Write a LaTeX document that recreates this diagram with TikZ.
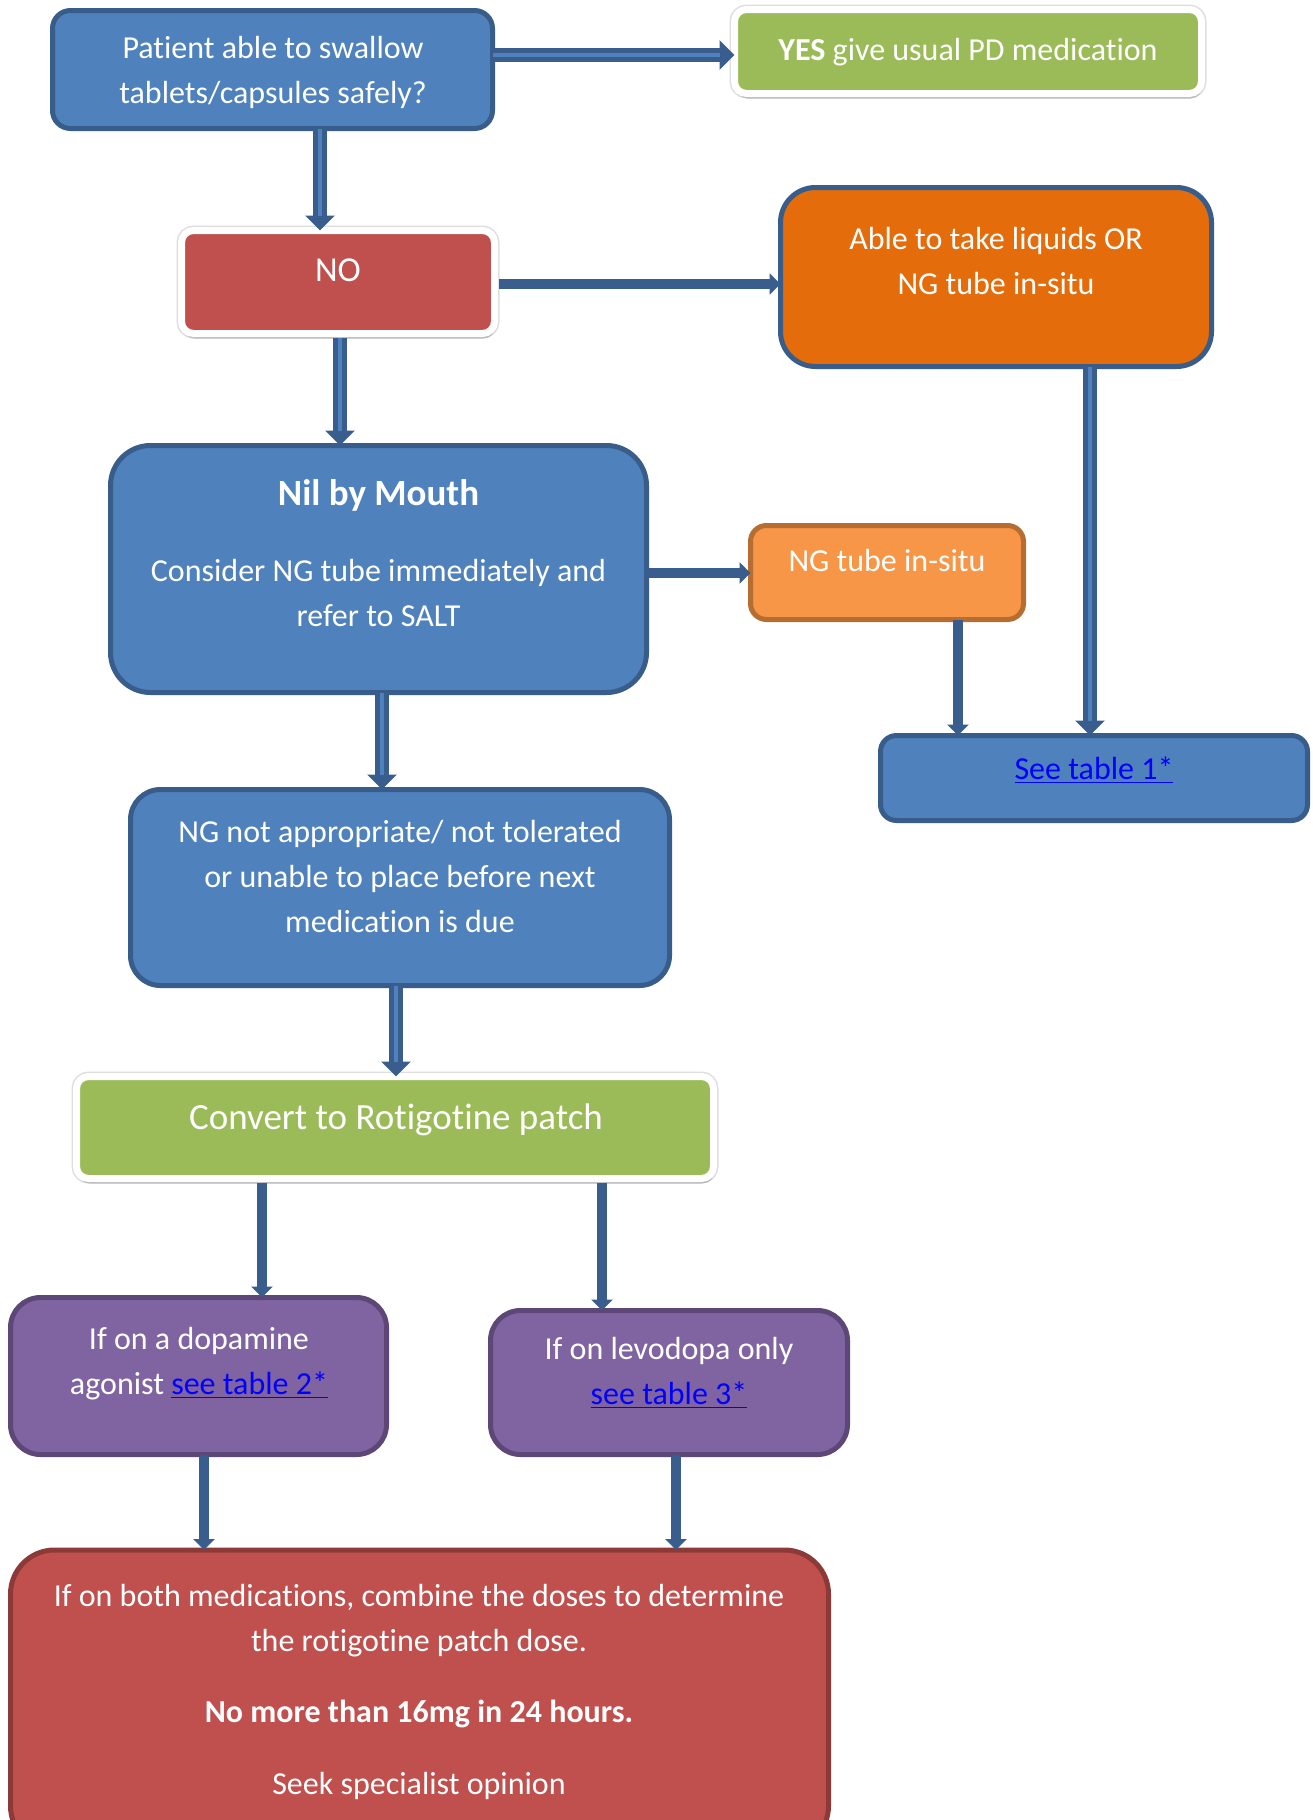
\documentclass[tikz,border=0pt]{standalone}
\usepackage{fontspec}
\setmainfont{Carlito}[Ligatures={NoCommon,NoContextual}]
\usetikzlibrary{arrows.meta,shadows}
\definecolor{bluefill}{HTML}{4F81BD}
\definecolor{bluebd}{HTML}{385D8A}
\definecolor{arrowc}{HTML}{395E8D}
\definecolor{stripec}{HTML}{4F81BD}
\definecolor{greenfill}{HTML}{9BBB59}
\definecolor{redfill}{HTML}{C0504D}
\definecolor{redbd}{HTML}{8C3A38}
\definecolor{orangefill}{HTML}{E46C0A}
\definecolor{ltorange}{HTML}{F79646}
\definecolor{ltorangebd}{HTML}{B66D31}
\definecolor{purplefill}{HTML}{8064A2}
\definecolor{purplebd}{HTML}{5C4776}
\definecolor{linkblue}{HTML}{0000FF}
\newcommand{\lnk}[1]{\textcolor{linkblue}{\underline{#1}}}
\begin{document}
\begin{tikzpicture}[x=0.5pt,y=-0.5pt,
  basebox/.style={outer sep=0pt, inner sep=0pt, line width=2.5pt},
  bluebox/.style={basebox, draw=bluebd, fill=bluefill},
  whitebox/.style={outer sep=0pt, inner sep=0pt, line width=3.5pt, draw=white, rounded corners=6pt,
    preaction={draw=black!13, line width=5pt},
    drop shadow={shadow xshift=0.5pt, shadow yshift=-2.5pt, opacity=0.3, fill=black!60}},
  txt/.style={text=white, align=center, inner sep=0pt, font=\fontsize{16pt}{22.5pt}\selectfont},
  thk/.style={draw=arrowc, line width=7pt, -{Triangle[width=14.5pt,length=7.5pt]},
    postaction={draw=stripec, line width=2pt, -, shorten >=7.5pt}},
  thn/.style={draw=arrowc, line width=5pt, -{Triangle[width=10.5pt,length=5.5pt]}}
]
\useasboundingbox (0,0) rectangle (1312,1820);
\clip (0,0) rectangle (1312,1820);
\fill[white] (0,0) rectangle (1312,1820);

% boxes
\node[bluebox, rounded corners=9pt, minimum width=220pt, minimum height=59pt] (b1) at (272.5,69.5) {};
\node[whitebox, fill=greenfill, minimum width=233.5pt, minimum height=42pt] (yes) at (968,51.5) {};
\node[whitebox, fill=redfill, minimum width=156.5pt, minimum height=51.5pt] (no) at (338,282) {};
\node[basebox, draw=bluebd, fill=orangefill, rounded corners=17.5pt, minimum width=215.5pt, minimum height=89.5pt] (orng) at (996,277) {};
\node[bluebox, rounded corners=20pt, minimum width=268pt, minimum height=123.5pt] (nil) at (378.5,569) {};
\node[basebox, draw=ltorangebd, fill=ltorange, rounded corners=8pt, minimum width=136.5pt, minimum height=47pt] (ng) at (887,572.5) {};
\node[bluebox, rounded corners=8pt, minimum width=213.5pt, minimum height=42.5pt] (t1) at (1094,778) {};
\node[bluebox, rounded corners=15pt, minimum width=269.5pt, minimum height=98pt] (notap) at (400,887.5) {};
\node[whitebox, fill=greenfill, minimum width=318.5pt, minimum height=51pt] (conv) at (395,1127.5) {};
\node[basebox, draw=purplebd, fill=purplefill, rounded corners=15pt, minimum width=188pt, minimum height=78.5pt] (p1) at (198.5,1376) {};
\node[basebox, draw=purplebd, fill=purplefill, rounded corners=15pt, minimum width=178.5pt, minimum height=72pt] (p2) at (669,1382.5) {};
\node[basebox, draw=redbd, fill=redfill, rounded corners=22pt, minimum width=409pt, minimum height=150pt] (red) at (419.5,1700) {};

% texts
\node[txt] (b1t) at (273,72) {\strut Patient able to swallow\\\strut tablets/capsules safely?};
\node[txt] (yest) at (968,52) {\strut{\bfseries YES} give usual PD medication};
\node[txt, font=\fontsize{17.5pt}{22.5pt}\selectfont] (not) at (338,272) {\strut NO};
\node[txt] (orngt) at (996,262.5) {\strut Able to take liquids OR\\\strut NG tube in-situ};
\node[txt] (nilt) at (378.5,556.5) {{\fontsize{18.5pt}{22.5pt}\selectfont\bfseries\strut Nil by Mouth}\\[15.5pt]\strut Consider NG tube immediately and\\\strut refer to SALT};
\node[txt] (ngt) at (887,562) {\strut NG tube in-situ};
\node[txt] (t1t) at (1094,770) {\strut\lnk{See table 1*}};
\node[txt] (notapt) at (400,878) {\strut NG not appropriate/ not tolerated\\\strut or unable to place before next\\\strut medication is due};
\node[txt, font=\fontsize{18.5pt}{22.5pt}\selectfont] (convt) at (396,1120) {\strut Convert to Rotigotine patch};
\node[txt] (p1t) at (199,1362.5) {\strut If on a dopamine\\\strut agonist \lnk{see table 2*}};
\node[txt] (p2t) at (669,1372.5) {\strut If on levodopa only\\\strut\lnk{see table 3*}};
\node[txt] (redt) at (419,1691) {\strut If on both medications, combine the doses to determine\\\strut the rotigotine patch dose.\\[13pt]{\bfseries\strut No more than 16mg in 24 hours.}\\[13.5pt]\strut Seek specialist opinion};

% connectors
\draw[thk] (b1.east |- 0,55) -- (yes.west |- 0,55);
\draw[thk] (b1.south -| 320,0) -- (no.north -| 320,0);
\draw[thn, shorten <=2pt] (no.east |- 0,284) -- (orng.west |- 0,284);
\draw[thk, shorten <=2pt] (no.south -| 340,0) -- (nil.north -| 340,0);
\draw[thn] (nil.east |- 0,573) -- (ng.west |- 0,573);
\draw[thk] (nil.south -| 382,0) -- (notap.north -| 382,0);
\draw[thk] (orng.south -| 1090,0) -- (t1.north -| 1090,0);
\draw[thn] (ng.south -| 958,0) -- (t1.north -| 958,0);
\draw[thk] (notap.south -| 396,0) -- (conv.north -| 396,0);
\draw[thn, shorten <=2pt] (conv.south -| 262,0) -- (p1.north -| 262,0);
\draw[thn, shorten <=2pt] (conv.south -| 602,0) -- (p2.north -| 602,0);
\draw[thn] (p1.south -| 204,0) -- (red.north -| 204,0);
\draw[thn] (p2.south -| 676,0) -- (red.north -| 676,0);
\end{tikzpicture}
\end{document}
